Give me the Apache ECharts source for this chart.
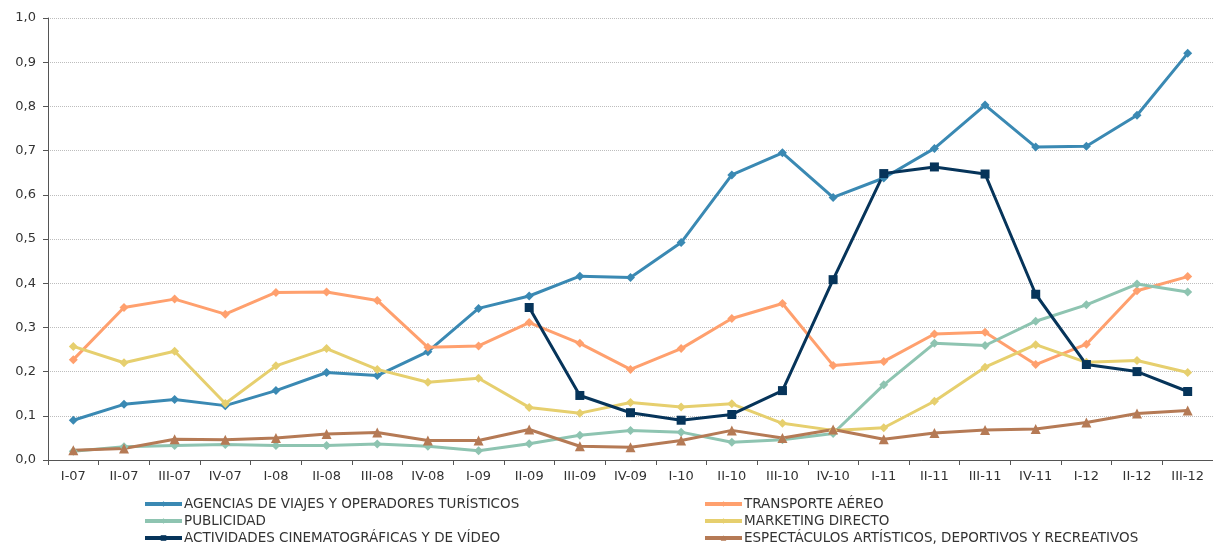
<!DOCTYPE html>
<html>
<head>
<meta charset="utf-8">
<script src="https://cdn.jsdelivr.net/npm/echarts@6/dist/echarts.min.js"></script>
<style>
  html, body { margin: 0; padding: 0; background: #fff; }
  #main { width: 1213px; height: 547px; }
</style>
</head>
<body>
<div id="main"></div>
<script>
const categories = ['I-07', 'II-07', 'III-07', 'IV-07', 'I-08', 'II-08', 'III-08', 'IV-08',
  'I-09', 'II-09', 'III-09', 'IV-09', 'I-10', 'II-10', 'III-10', 'IV-10',
  'I-11', 'II-11', 'III-11', 'IV-11', 'I-12', 'II-12', 'III-12']

const agencias = [0.090, 0.126, 0.137, 0.123, 0.157, 0.198, 0.191, 0.245,
  0.343, 0.371, 0.416, 0.413, 0.492, 0.645, 0.695, 0.594,
  0.638, 0.705, 0.803, 0.708, 0.710, 0.780, 0.920]
const transporte = [0.227, 0.345, 0.364, 0.330, 0.379, 0.380, 0.361, 0.255,
  0.258, 0.311, 0.264, 0.205, 0.252, 0.320, 0.354, 0.214,
  0.223, 0.285, 0.289, 0.216, 0.262, 0.383, 0.415]
const publicidad = [0.020, 0.030, 0.033, 0.035, 0.033, 0.033, 0.036, 0.031,
  0.021, 0.037, 0.056, 0.067, 0.063, 0.040, 0.046, 0.060,
  0.170, 0.264, 0.259, 0.314, 0.351, 0.398, 0.380]
const marketing = [0.257, 0.220, 0.246, 0.128, 0.213, 0.252, 0.205, 0.176,
  0.185, 0.119, 0.106, 0.130, 0.120, 0.127, 0.083, 0.067,
  0.073, 0.133, 0.210, 0.261, 0.221, 0.225, 0.198]
const cine = [null, null, null, null, null, null, null, null,
  null, 0.345, 0.146, 0.107, 0.090, 0.103, 0.157, 0.408,
  0.648, 0.663, 0.647, 0.375, 0.216, 0.200, 0.155]
const espectaculos = [0.022, 0.026, 0.047, 0.046, 0.050, 0.059, 0.062, 0.044,
  0.044, 0.069, 0.031, 0.029, 0.044, 0.067, 0.050, 0.069,
  0.047, 0.061, 0.068, 0.070, 0.085, 0.105, 0.112]

const yTicks = ['0,0', '0,1', '0,2', '0,3', '0,4', '0,5', '0,6', '0,7', '0,8', '0,9', '1,0']

const names = [
  'AGENCIAS DE VIAJES Y OPERADORES TURÍSTICOS',
  'TRANSPORTE AÉREO',
  'PUBLICIDAD',
  'MARKETING DIRECTO',
  'ACTIVIDADES CINEMATOGRÁFICAS Y DE VÍDEO',
  'ESPECTÁCULOS ARTÍSTICOS, DEPORTIVOS Y RECREATIVOS'
]

const font = 'DejaVu Sans, Verdana, sans-serif'

function makeSeries(name, data, color, symbol, size) {
  return {
    name: name,
    type: 'line',
    data: data,
    color: color,
    symbol: symbol,
    symbolSize: size,
    showSymbol: true,
    connectNulls: false,
    lineStyle: { width: 3, color: color },
    itemStyle: { color: color },
    emphasis: { disabled: true }
  }
}

function makeLegend(items, left) {
  return {
    data: items,
    orient: 'vertical',
    left: left,
    top: 497,
    height: 50,
    padding: 0,
    itemWidth: 37,
    itemHeight: 7,
    itemGap: 3,
    lineStyle: { width: 4 },
    textStyle: { fontFamily: font, fontSize: 13.5, color: '#333', padding: [0, 0, 0, -3] }
  }
}

const chart = echarts.init(document.getElementById('main'))
chart.setOption({
  animation: false,
  textStyle: { fontFamily: font },
  grid: { left: 48, right: 0, top: 18, bottom: 87 },
  legend: [
    makeLegend([names[0], names[2], names[4]], 143),
    makeLegend([names[1], names[3], names[5]], 703)
  ],
  xAxis: {
    type: 'category',
    data: categories,
    boundaryGap: true,
    axisLine: { lineStyle: { color: '#555', width: 1 } },
    axisTick: { show: true, alignWithLabel: false, length: 5, lineStyle: { color: '#555' } },
    axisLabel: { color: '#333', fontSize: 13, margin: 10, interval: 0 }
  },
  yAxis: {
    type: 'value',
    min: 0,
    max: 1,
    interval: 0.1,
    axisLine: { show: true, lineStyle: { color: '#555', width: 1 } },
    axisTick: { show: true, length: 5, lineStyle: { color: '#555' } },
    axisLabel: {
      color: '#333',
      fontSize: 13,
      margin: 12,
      formatter: function (v) { return yTicks[Math.round(v * 10)] }
    },
    splitLine: { show: true, lineStyle: { type: 'dotted', color: '#bdbdbd', width: 1 } }
  },
  series: [
    makeSeries(names[0], agencias, '#3A89B3', 'diamond', 9),
    makeSeries(names[1], transporte, '#FFA06E', 'diamond', 9),
    makeSeries(names[2], publicidad, '#8EC4B1', 'diamond', 9),
    makeSeries(names[3], marketing, '#E6CF6E', 'diamond', 9),
    makeSeries(names[4], cine, '#06345A', 'rect', 9),
    makeSeries(names[5], espectaculos, '#B57A55', 'triangle', 10)
  ]
})
</script>
</body>
</html>
